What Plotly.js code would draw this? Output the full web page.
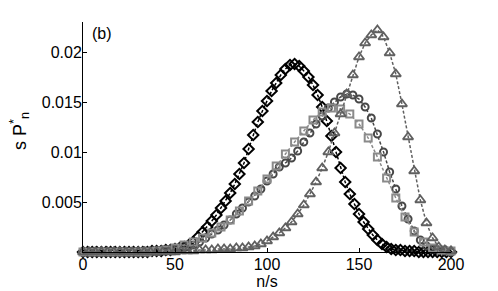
<!DOCTYPE html>
<html>
<head>
<meta charset="utf-8">
<script src="https://cdn.plot.ly/plotly-3.0.1.min.js"></script>
<style>html,body{margin:0;padding:0;background:#fff;}#chart{width:498px;height:291px;}</style>
</head>
<body>
<div id="chart"></div>
<script>
// x grids (n/s)
var xDiamond = [0,2.5,5,7.5,10,12.5,15,17.5,20,22.5,25,27.5,30,32.5,35,37.5,40,42.5,45,47.5,50,52.5,55,57.5,60,62.5,65,67.5,70,72.5,75,77.5,80,82.5,85,87.5,90,92.5,95,97.5,100,102.5,105,107.5,110,112.5,115,117.5,120,122.5,125,127.5,130,132.5,135,137.5,140,142.5,145,147.5,150,152.5,155,157.5,160,162.5,165,167.5,170,172.5,175,177.5,180,182.5,185,187.5,190,192.5,195,197.5,200];
var yDiamond = [0,0,0,0,0,0,0,0,0,0,0,0,0,0,0,0.0001,0.0001,0.0001,0.0002,0.0002,0.0003,0.0004,0.0005,0.0007,0.0010,0.0015,0.0020,0.0025,0.0031,0.0037,0.0044,0.0051,0.0059,0.0068,0.0078,0.0089,0.0103,0.0117,0.0130,0.0141,0.0151,0.0161,0.0169,0.0177,0.0183,0.0187,0.0188,0.0186,0.0181,0.0175,0.0167,0.0157,0.0145,0.0131,0.0116,0.0100,0.0084,0.0070,0.0058,0.0048,0.0038,0.0030,0.0023,0.0017,0.0012,0.0008,0.0005,0.0003,0.0002,0.0002,0.0001,0.0001,0.0001,0,0,0,0,0,0,0,0];

var xCircle = [0,3.33,6.67,10,13.33,16.67,20,23.33,26.67,30,33.33,36.67,40,43.33,46.67,50,53.33,56.67,60,63.33,66.67,70,73.33,76.67,80,83.33,86.67,90,93.33,96.67,100,103.33,106.67,110,113.33,116.67,120,123.33,126.67,130,133.33,136.67,140,143.33,146.67,150,153.33,156.67,160,163.33,166.67,170,173.33,176.67,180,183.33,186.67,190,193.33,196.67,200];
var yCircle = [0,0,0,0,0,0,0,0,0,0,0.0001,0.0001,0.0001,0.0002,0.0002,0.0003,0.0004,0.0005,0.0007,0.0010,0.0014,0.0018,0.0022,0.0027,0.0032,0.0038,0.0044,0.0050,0.0056,0.0063,0.0071,0.0078,0.0085,0.0089,0.0094,0.0101,0.0110,0.0119,0.0128,0.0136,0.0144,0.0150,0.0155,0.0158,0.0157,0.0153,0.0145,0.0134,0.0118,0.0100,0.0080,0.0063,0.0046,0.0033,0.0021,0.0012,0.0006,0.0003,0.0002,0.0001,0];

var xSquare = [0,5,10,15,20,25,30,35,40,45,50,55,60,65,70,75,80,85,90,95,100,105,110,115,120,125,130,135,140,145,150,155,160,165,170,175,180,185,190,195,200];
var ySquare = [0,0,0,0,0,0,0,0,0.0001,0.0002,0.0004,0.0007,0.0010,0.0014,0.0019,0.0025,0.0032,0.0041,0.0051,0.0061,0.0073,0.0086,0.0098,0.0110,0.0121,0.0132,0.0140,0.0144,0.0143,0.0138,0.0128,0.0114,0.0095,0.0074,0.0054,0.0035,0.0020,0.0010,0.0004,0.0002,0.0001];

var xTriangle = [0,3.33,6.67,10,13.33,16.67,20,23.33,26.67,30,33.33,36.67,40,43.33,46.67,50,53.33,56.67,60,63.33,66.67,70,73.33,76.67,80,83.33,86.67,90,93.33,96.67,100,103.33,106.67,110,113.33,116.67,120,123.33,126.67,130,133.33,136.67,140,143.33,146.67,150,153.33,156.67,160,163.33,166.67,170,173.33,176.67,180,183.33,186.67,190,193.33,196.67,200];
var yTriangle = [0,0,0,0,0,0,0,0,0,0,0,0,0,0,0,0,0.0001,0.0001,0.0001,0.0002,0.0002,0.0002,0.0003,0.0003,0.0003,0.0004,0.0004,0.0005,0.0006,0.0008,0.0011,0.0015,0.0019,0.0024,0.0030,0.0038,0.0047,0.0058,0.0070,0.0084,0.0100,0.0119,0.0138,0.0158,0.0177,0.0195,0.0209,0.0217,0.0222,0.0215,0.0199,0.0178,0.0148,0.0115,0.0081,0.0052,0.0029,0.0014,0.0005,0.0002,0.0001];

var xTicks = [0,50,100,150,200];
var yTicks = [0.005,0.01,0.015,0.02];
var yTickText = ['0.005','0.01','0.015','0.02'];

function series(x, y, color, symbol, size, lw) {
  return {
    x: x, y: y, type: 'scatter', mode: 'lines+markers', cliponaxis: false,
    line: {color: color, width: 1.5, dash: '3px,2px'},
    marker: {symbol: symbol, size: size, color: color, line: {color: color, width: lw}},
    showlegend: false, hoverinfo: 'skip'
  };
}

var data = [
  series(xDiamond, yDiamond, '#000000', 'diamond-open', 8, 2),
  series(xCircle, yCircle, '#474747', 'circle-open', 7, 2),
  series(xSquare, ySquare, '#8a8a8a', 'square-open', 7, 2),
  series(xTriangle, yTriangle, '#606060', 'triangle-up-open', 9, 1.8)
];

var font = {family: '"Liberation Sans", Arial, sans-serif', size: 16, color: '#000'};

var layout = {
  width: 498, height: 291,
  margin: {l: 83, r: 47, t: 22, b: 39, pad: 0},
  paper_bgcolor: '#fff', plot_bgcolor: '#fff',
  font: font,
  xaxis: {
    range: [0, 200], tickvals: xTicks, ticktext: xTicks.map(String),
    ticks: 'inside', ticklen: 4, tickcolor: '#000', tickwidth: 1,
    showline: true, linecolor: '#000', linewidth: 1, mirror: false,
    showgrid: false, zeroline: false, tickfont: font, ticklabelstandoff: -2,
    title: {text: 'n/s', font: font, standoff: 0}
  },
  yaxis: {
    range: [0, 0.023], tickvals: yTicks, ticktext: yTickText,
    ticks: 'inside', ticklen: 4, tickcolor: '#000', tickwidth: 1,
    showline: true, linecolor: '#000', linewidth: 1, mirror: false,
    showgrid: false, zeroline: false, tickfont: font, ticklabelstandoff: -3,
    title: {text: ' '}
  },
  xaxis2: {
    overlaying: 'x', side: 'top', anchor: 'y', range: [0, 200], tickvals: xTicks,
    ticks: 'inside', ticklen: 4, tickcolor: '#888', showticklabels: false,
    showline: true, linecolor: '#888', linewidth: 1, showgrid: false, zeroline: false
  },
  yaxis2: {
    overlaying: 'y', side: 'right', anchor: 'x', range: [0, 0.023], tickvals: yTicks,
    ticks: 'inside', ticklen: 4, tickcolor: '#888', showticklabels: false,
    showline: true, linecolor: '#888', linewidth: 1, showgrid: false, zeroline: false
  },
  annotations: [{
    text: '(b)', xref: 'paper', yref: 'paper', x: 0.02, y: 1, xanchor: 'left', yanchor: 'top',
    yshift: -1, showarrow: false, font: font
  }, {
    text: 's P<sup>*</sup><sub>n</sub>', xref: 'paper', yref: 'paper', x: 0, y: 0.5,
    xanchor: 'center', yanchor: 'middle', xshift: -64, yshift: 6, textangle: -90,
    showarrow: false, font: {family: font.family, size: 18, color: '#000'}
  }]
};

Plotly.newPlot('chart', data, layout, {staticPlot: true, displayModeBar: false});
</script>
</body>
</html>
